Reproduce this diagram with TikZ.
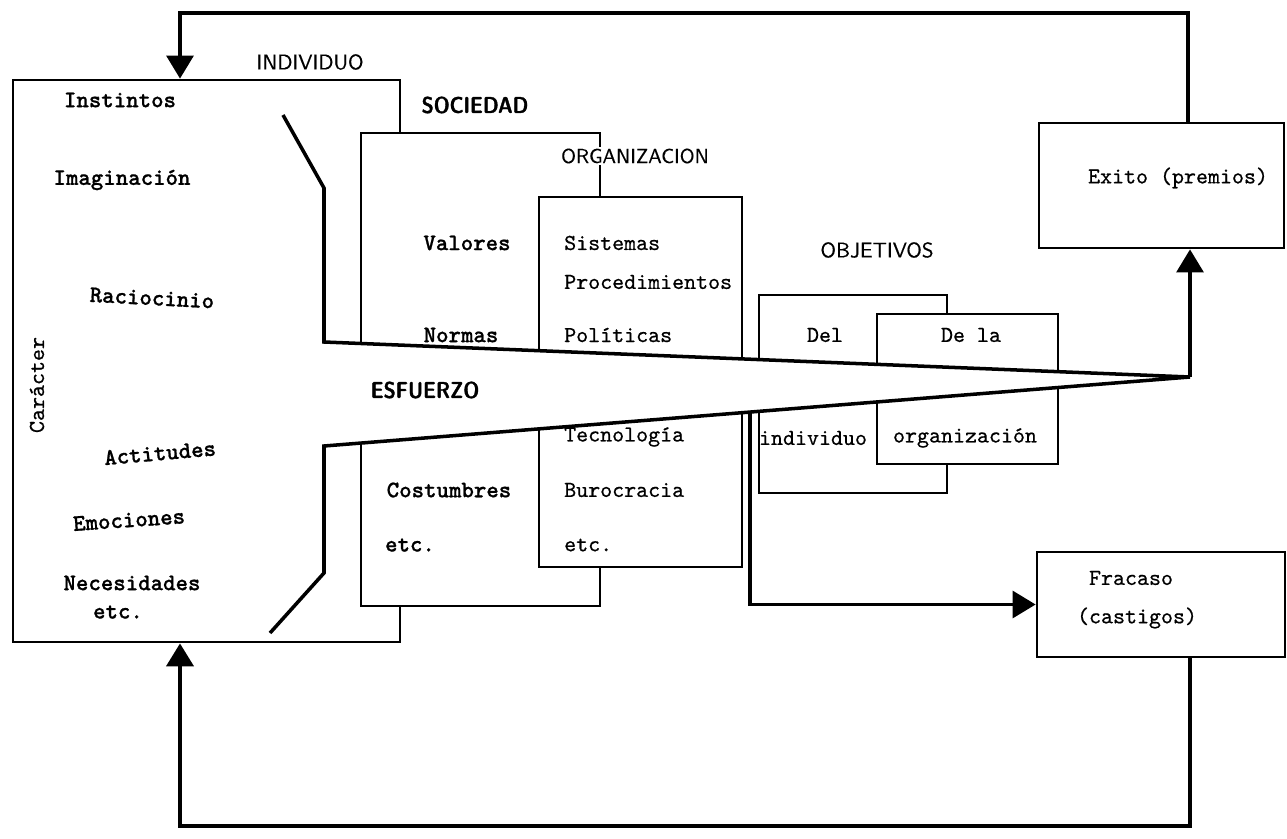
\documentclass[tikz,border=0pt]{standalone}
\usepackage{fontspec}
\usepackage{tikz}
\usetikzlibrary{arrows.meta,fit}
\newfontfamily\typefont{lmmono10-regular.otf}[FakeBold=0.6]
\newfontfamily\typeboldfont{lmmonolt10-bold.otf}[FakeBold=0.8]
\newfontfamily\headfont{lmsans10-regular.otf}[FakeBold=0.4]
\newfontfamily\headboldfont{lmsansdemicond10-regular.otf}[FakeBold=1.4]

\begin{document}
\begin{tikzpicture}[x=0.02cm,y=-0.02cm,
    >={Triangle[length=0.46cm,width=0.54cm]},
    box/.style={draw,line width=1.6pt,inner sep=0pt,fill=white},
    flow/.style={line width=1.8pt},
    heading/.style={font=\fontsize{12}{14}\selectfont\headfont},
    headingb/.style={font=\fontsize{13}{15}\selectfont\headboldfont},
    tw/.style={font=\fontsize{13}{15}\selectfont\typefont},
    twb/.style={font=\fontsize{13.5}{15}\selectfont\typeboldfont}]
    \useasboundingbox (0,0) rectangle (1287,838);

    % boxes
    \node[box,fit={(13,80) (400,642)}] (individuo) {};
    \node[box,fit={(361,133) (600,606)}] (sociedad) {};
    \node[box,fit={(539,197) (742,567)}] (organizacion) {};
    \node[box,fit={(759,295) (947,493)}] (delind) {};
    \node[box,fit={(877,314) (1058,464)}] (delaorg) {};
    \node[box,fit={(1039,123) (1284,248)}] (exito) {};
    \node[box,fit={(1037,552) (1285,657)}] (fracaso) {};

    % funnel of the effort
    \coordinate (apex) at (1190,377);
    \coordinate (up) at (324,342);
    \coordinate (lo) at (324,446);
    \fill[white] (up) -- (apex) -- (lo) -- cycle;
    \draw[line width=2pt] (283,115) -- (324,188) -- (up) -- (apex) -- (lo) -- (324,573) -- (270,633);

    % headings
    \node[heading] (tindividuo) at (310,62) {INDIVIDUO};
    \node[headingb] (tsociedad) at (475,105) {SOCIEDAD};
    \node[heading,font=\fontsize{11.5}{14}\selectfont\headfont,fill=white,inner sep=1pt] (torganizacion) at (635,156) {ORGANIZACION};
    \node[heading] (tobjetivos) at (877,250) {OBJETIVOS};
    \node[headingb] (tesfuerzo) at (425,390) {ESFUERZO};

    % individuo
    \node[twb] (instintos) at (120,100) {Instintos};
    \node[twb] (imaginacion) at (122,180) {Imaginación};
    \node[twb,rotate=-3] (raciocinio) at (152,298) {Raciocinio};
    \node[tw,rotate=90] (caracter) at (37,385) {Carácter};
    \node[twb,rotate=5] (actitudes) at (160,453) {Actitudes};
    \node[twb,rotate=4] (emociones) at (129,520) {Emociones};
    \node[twb] (necesidades) at (132,583) {Necesidades};
    \node[twb] (etcind) at (118,612) {etc.};

    % sociedad
    \node[twb] (valores) at (467,243) {Valores};
    \node[twb] (normas) at (461,335) {Normas};
    \node[twb] (costumbres) at (449,490) {Costumbres};
    \node[twb] (etcsoc) at (410,545) {etc.};

    % organizacion
    \node[tw,anchor=west] (sistemas) at (558,243) {Sistemas};
    \node[tw,anchor=west] (procedimientos) at (558,282) {Procedimientos};
    \node[tw,anchor=west] (politicas) at (558,335) {Políticas};
    \node[tw,anchor=west] (tecnologia) at (558,437) {Tecnología};
    \node[tw,anchor=west] (burocracia) at (558,490) {Burocracia};
    \node[tw,anchor=west] (etcorg) at (558,545) {etc.};

    % objetivos
    \node[tw] (del) at (825,335) {Del};
    \node[tw] (dela) at (971,335) {De la};
    \node[tw] (tind) at (813,438) {individuo};
    \node[tw] (torg) at (965,438) {organización};

    % results
    \node[tw] (texito) at (1178,178) {Exito (premios)};
    \node[tw] (tfracaso) at (1131,578) {Fracaso};
    \node[tw] (tcastigos) at (1137,618) {(castigos)};

    % feedback
    \coordinate (toprt) at (1188,13);
    \coordinate (toplt) at (180,13);
    \draw[flow,->] (exito.north -| toprt) -- (toprt) -- (toplt) -- (individuo.north -| toplt);
    \coordinate (botrt) at (1190,826);
    \coordinate (botlt) at (180,826);
    \draw[flow,line width=2.4pt,->] (fracaso.south -| botrt) -- (botrt) -- (botlt) -- (individuo.south -| botlt);
    \draw[flow,->] (apex) -- (exito.south -| apex);
    \coordinate (fstart) at (750,412);
    \draw[flow,->] (fstart) |- (fracaso.west);
\end{tikzpicture}
\end{document}
